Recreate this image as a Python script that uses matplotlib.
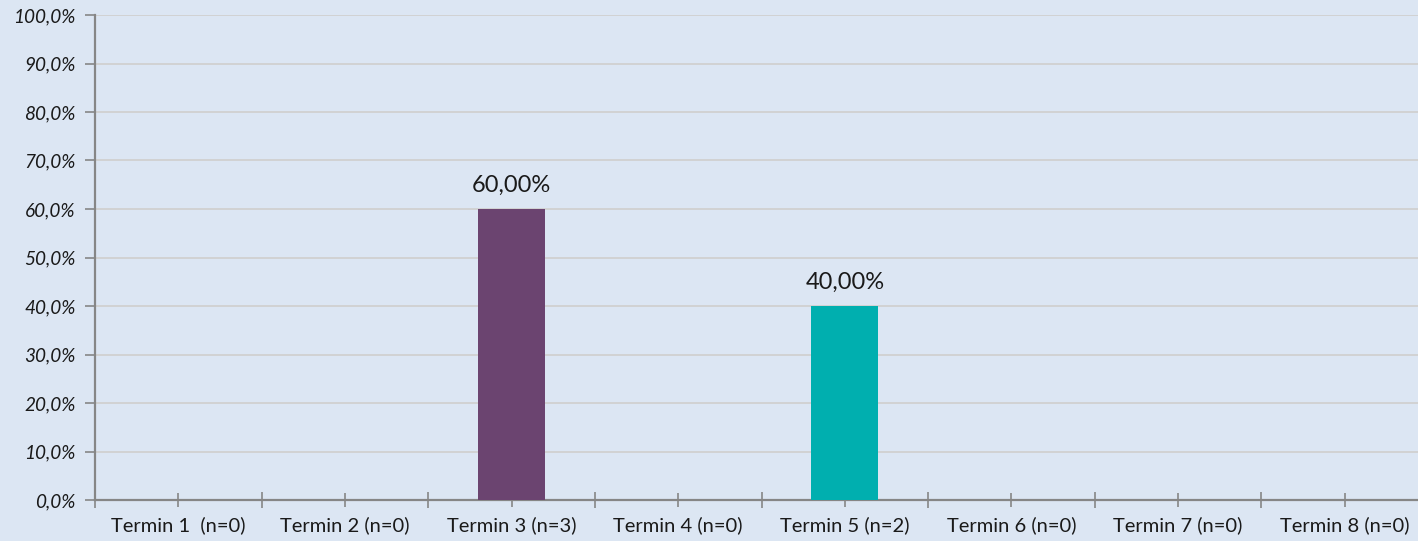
import matplotlib.pyplot as plt
import numpy as np
from matplotlib.ticker import FuncFormatter

# data
labels = ["Termin 1  (n=0)", "Termin 2 (n=0)", "Termin 3 (n=3)", "Termin 4 (n=0)",
          "Termin 5 (n=2)", "Termin 6 (n=0)", "Termin 7 (n=0)", "Termin 8 (n=0)"]
values = [0, 0, 0.60, 0, 0.40, 0, 0, 0]
colors = ["#6B4470", "#6B4470", "#6B4470", "#6B4470", "#00AFAF", "#00AFAF", "#00AFAF", "#00AFAF"]

bg = "#DCE6F3"
plt.rcParams['font.family'] = ['Lato', 'DejaVu Sans']

fig = plt.figure(figsize=(14.18, 5.41), dpi=100)
fig.patch.set_facecolor(bg)
W, H = 1418, 541
left, right, top, bottom = 95, 1428, 15, 500
ax = fig.add_axes([left / W, (H - bottom) / H, (right - left) / W, (bottom - top) / H])
ax.set_facecolor(bg)

x = np.arange(len(labels))
ax.bar(x, values, width=0.4, color=colors, zorder=3)
for xi, v in zip(x, values):
    if v > 0:
        ax.text(xi, v + 0.028, f"{v*100:.2f}%".replace(".", ","), ha="center", va="bottom",
                fontsize=17, color="#1a1a1a")

ax.set_xlim(-0.5, len(labels) - 0.5)
ax.set_ylim(0, 1)
ax.set_yticks(np.arange(0, 1.01, 0.1))
ax.yaxis.set_major_formatter(FuncFormatter(lambda v, p: f"{v*100:.1f}%".replace(".", ",")))
for t in ax.get_yticklabels():
    t.set_fontstyle("italic")
ax.tick_params(axis="y", labelsize=13.7, length=7, color="#868686", width=1.2, labelcolor="#1a1a1a", pad=7)
ax.grid(axis="y", color="#D0D0D0", linewidth=1.3, zorder=0)

# category labels at centers, ticks at centers and boundaries
ax.set_xticks(x)
ax.set_xticklabels(labels)
ax.set_xticks(np.arange(-0.5, len(labels), 1.0), minor=True)
ax.tick_params(axis="x", which="major", direction="inout", length=10, color="#868686", width=1.2,
               labelsize=14.5, labelcolor="#1a1a1a", pad=7)
ax.tick_params(axis="x", which="minor", direction="inout", length=12, color="#868686", width=1.2)

for s in ["top", "right"]:
    ax.spines[s].set_visible(False)
for s in ["left", "bottom"]:
    ax.spines[s].set_color("#868686")
    ax.spines[s].set_linewidth(1.6)

fig.savefig("out.png", dpi=100, facecolor=bg)
